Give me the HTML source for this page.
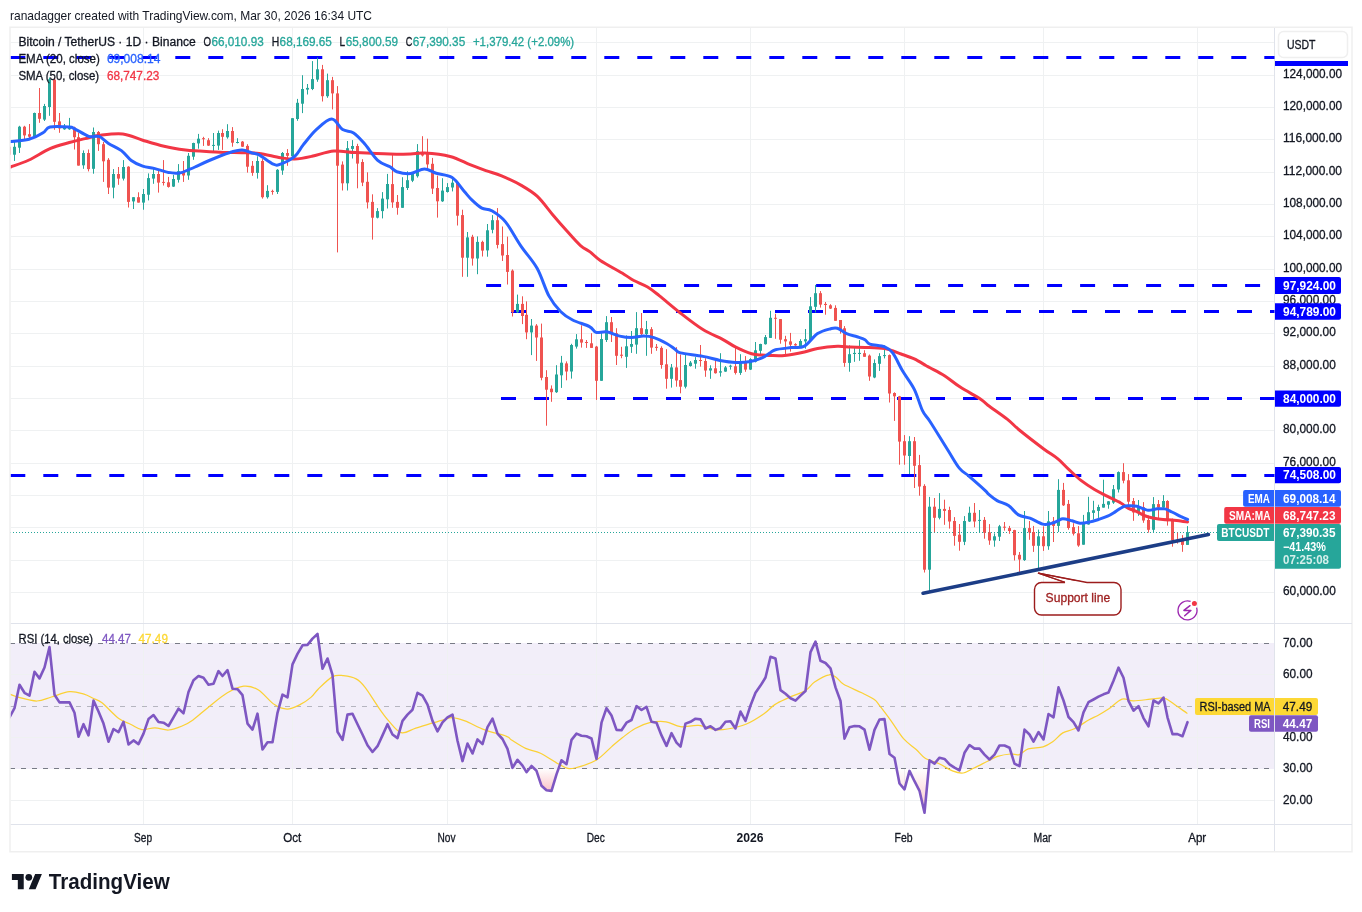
<!DOCTYPE html><html><head><meta charset="utf-8"><style>
html,body{margin:0;padding:0;background:#fff;width:1362px;height:912px;overflow:hidden}
svg{display:block;will-change:transform}
text{font-family:"Liberation Sans", sans-serif}
</style></head><body>
<svg width="1362" height="912" viewBox="0 0 1362 912">
<rect x="0" y="0" width="1362" height="912" fill="#ffffff"/>

<text x="10" y="19.5" font-size="13" fill="#131722" textLength="362" lengthAdjust="spacingAndGlyphs">ranadagger created with TradingView.com, Mar 30, 2026 16:34 UTC</text>
<rect x="10" y="27.25" width="1342" height="824.5" fill="none" stroke="#efefef" stroke-width="1.5"/>
<defs><clipPath id="cp"><rect x="10.75" y="28" width="1263.75" height="595"/></clipPath>
<clipPath id="cr"><rect x="10.75" y="624" width="1263.75" height="200"/></clipPath>
<linearGradient id="osg" x1="0" y1="0" x2="0" y2="1"><stop offset="0" stop-color="#f23645" stop-opacity="0"/><stop offset="1" stop-color="#f23645" stop-opacity="0.3"/></linearGradient>
<linearGradient id="obg" x1="0" y1="1" x2="0" y2="0"><stop offset="0" stop-color="#089981" stop-opacity="0"/><stop offset="1" stop-color="#089981" stop-opacity="0.22"/></linearGradient>
</defs>
<g clip-path="url(#cp)">
<line x1="10" y1="592.5" x2="1275" y2="592.5" stroke="#eff1f2" stroke-width="1"/>
<line x1="10" y1="560.5" x2="1275" y2="560.5" stroke="#eff1f2" stroke-width="1"/>
<line x1="10" y1="527.5" x2="1275" y2="527.5" stroke="#eff1f2" stroke-width="1"/>
<line x1="10" y1="495.5" x2="1275" y2="495.5" stroke="#eff1f2" stroke-width="1"/>
<line x1="10" y1="463.5" x2="1275" y2="463.5" stroke="#eff1f2" stroke-width="1"/>
<line x1="10" y1="430.5" x2="1275" y2="430.5" stroke="#eff1f2" stroke-width="1"/>
<line x1="10" y1="398.5" x2="1275" y2="398.5" stroke="#eff1f2" stroke-width="1"/>
<line x1="10" y1="366.5" x2="1275" y2="366.5" stroke="#eff1f2" stroke-width="1"/>
<line x1="10" y1="333.5" x2="1275" y2="333.5" stroke="#eff1f2" stroke-width="1"/>
<line x1="10" y1="301.5" x2="1275" y2="301.5" stroke="#eff1f2" stroke-width="1"/>
<line x1="10" y1="269.5" x2="1275" y2="269.5" stroke="#eff1f2" stroke-width="1"/>
<line x1="10" y1="236.5" x2="1275" y2="236.5" stroke="#eff1f2" stroke-width="1"/>
<line x1="10" y1="204.5" x2="1275" y2="204.5" stroke="#eff1f2" stroke-width="1"/>
<line x1="10" y1="172.5" x2="1275" y2="172.5" stroke="#eff1f2" stroke-width="1"/>
<line x1="10" y1="139.5" x2="1275" y2="139.5" stroke="#eff1f2" stroke-width="1"/>
<line x1="10" y1="107.5" x2="1275" y2="107.5" stroke="#eff1f2" stroke-width="1"/>
<line x1="10" y1="75.5" x2="1275" y2="75.5" stroke="#eff1f2" stroke-width="1"/>
<line x1="10" y1="42.5" x2="1275" y2="42.5" stroke="#eff1f2" stroke-width="1"/>
<line x1="143.5" y1="28" x2="143.5" y2="624" stroke="#eff1f2" stroke-width="1"/>
<line x1="292.5" y1="28" x2="292.5" y2="624" stroke="#eff1f2" stroke-width="1"/>
<line x1="447.5" y1="28" x2="447.5" y2="624" stroke="#eff1f2" stroke-width="1"/>
<line x1="596.5" y1="28" x2="596.5" y2="624" stroke="#eff1f2" stroke-width="1"/>
<line x1="750.5" y1="28" x2="750.5" y2="624" stroke="#eff1f2" stroke-width="1"/>
<line x1="904.5" y1="28" x2="904.5" y2="624" stroke="#eff1f2" stroke-width="1"/>
<line x1="1043.5" y1="28" x2="1043.5" y2="624" stroke="#eff1f2" stroke-width="1"/>
<line x1="1197.5" y1="28" x2="1197.5" y2="624" stroke="#eff1f2" stroke-width="1"/>
</g>
<g clip-path="url(#cr)">
<rect x="10" y="643" width="1265" height="126" fill="#7e57c2" fill-opacity="0.1"/>
<line x1="10" y1="674.5" x2="1275" y2="674.5" stroke="#eff1f2" stroke-width="1"/>
<line x1="10" y1="737.5" x2="1275" y2="737.5" stroke="#eff1f2" stroke-width="1"/>
<line x1="10" y1="800.5" x2="1275" y2="800.5" stroke="#eff1f2" stroke-width="1"/>
<line x1="143.5" y1="624" x2="143.5" y2="824" stroke="#eff1f2" stroke-width="1"/>
<line x1="292.5" y1="624" x2="292.5" y2="824" stroke="#eff1f2" stroke-width="1"/>
<line x1="447.5" y1="624" x2="447.5" y2="824" stroke="#eff1f2" stroke-width="1"/>
<line x1="596.5" y1="624" x2="596.5" y2="824" stroke="#eff1f2" stroke-width="1"/>
<line x1="750.5" y1="624" x2="750.5" y2="824" stroke="#eff1f2" stroke-width="1"/>
<line x1="904.5" y1="624" x2="904.5" y2="824" stroke="#eff1f2" stroke-width="1"/>
<line x1="1043.5" y1="624" x2="1043.5" y2="824" stroke="#eff1f2" stroke-width="1"/>
<line x1="1197.5" y1="624" x2="1197.5" y2="824" stroke="#eff1f2" stroke-width="1"/>
<line x1="10" y1="643.5" x2="1275" y2="643.5" stroke="#787b86" stroke-width="1" stroke-dasharray="5 6" stroke-opacity="1"/>
<line x1="10" y1="706.5" x2="1275" y2="706.5" stroke="#787b86" stroke-width="1" stroke-dasharray="5 6" stroke-opacity="0.5"/>
<line x1="10" y1="768.5" x2="1275" y2="768.5" stroke="#787b86" stroke-width="1" stroke-dasharray="5 6" stroke-opacity="1"/>
</g>
<line x1="10.75" y1="623.5" x2="1352" y2="623.5" stroke="#e0e3eb" stroke-width="1"/>
<line x1="10.75" y1="824.5" x2="1352" y2="824.5" stroke="#e0e3eb" stroke-width="1"/>
<line x1="1274.5" y1="28" x2="1274.5" y2="851" stroke="#e0e3eb" stroke-width="1"/>
<g clip-path="url(#cp)">
<line x1="10.3" y1="57.5" x2="1275" y2="57.5" stroke="#0000ff" stroke-width="3" stroke-dasharray="15 18"/>
<line x1="486.1" y1="285.5" x2="1275" y2="285.5" stroke="#0000ff" stroke-width="3" stroke-dasharray="15 18"/>
<line x1="511" y1="311.5" x2="1275" y2="311.5" stroke="#0000ff" stroke-width="3" stroke-dasharray="15 18"/>
<line x1="501" y1="398.5" x2="1275" y2="398.5" stroke="#0000ff" stroke-width="3" stroke-dasharray="15 18"/>
<line x1="10.3" y1="475.5" x2="1275" y2="475.5" stroke="#0000ff" stroke-width="3" stroke-dasharray="15 18"/>
<line x1="10" y1="532.5" x2="1275" y2="532.5" stroke="#26a69a" stroke-width="1" stroke-dasharray="1 2"/>
<rect x="9" y="146.0" width="1" height="10.0" fill="#ef5350"/>
<rect x="8" y="146.8" width="3" height="7.9" fill="#ef5350"/>
<rect x="14" y="141.6" width="1" height="19.3" fill="#26a69a"/>
<rect x="13" y="146.8" width="3" height="7.9" fill="#26a69a"/>
<rect x="19" y="125.8" width="1" height="27.2" fill="#26a69a"/>
<rect x="18" y="126.7" width="3" height="21.0" fill="#26a69a"/>
<rect x="24" y="125.8" width="1" height="14.0" fill="#ef5350"/>
<rect x="23" y="126.7" width="3" height="8.7" fill="#ef5350"/>
<rect x="29" y="124.0" width="1" height="14.0" fill="#ef5350"/>
<rect x="28" y="134.2" width="3" height="2.5" fill="#ef5350"/>
<rect x="34" y="112.6" width="1" height="24.6" fill="#26a69a"/>
<rect x="33" y="113.0" width="3" height="23.7" fill="#26a69a"/>
<rect x="39" y="88.0" width="1" height="34.8" fill="#ef5350"/>
<rect x="38" y="113.0" width="3" height="5.8" fill="#ef5350"/>
<rect x="44" y="103.9" width="1" height="17.1" fill="#26a69a"/>
<rect x="43" y="106.0" width="3" height="13.6" fill="#26a69a"/>
<rect x="49" y="77.5" width="1" height="38.3" fill="#26a69a"/>
<rect x="48" y="79.3" width="3" height="27.7" fill="#26a69a"/>
<rect x="54" y="77.5" width="1" height="52.3" fill="#ef5350"/>
<rect x="53" y="79.6" width="3" height="42.2" fill="#ef5350"/>
<rect x="59" y="113.0" width="1" height="19.8" fill="#ef5350"/>
<rect x="58" y="121.4" width="3" height="7.0" fill="#ef5350"/>
<rect x="64" y="124.0" width="1" height="5.8" fill="#26a69a"/>
<rect x="63" y="125.8" width="3" height="3.5" fill="#26a69a"/>
<rect x="69" y="117.9" width="1" height="11.9" fill="#26a69a"/>
<rect x="68" y="126.7" width="3" height="2.6" fill="#26a69a"/>
<rect x="74" y="126.7" width="1" height="22.8" fill="#ef5350"/>
<rect x="73" y="127.5" width="3" height="9.7" fill="#ef5350"/>
<rect x="78" y="132.8" width="1" height="32.8" fill="#ef5350"/>
<rect x="77" y="137.2" width="3" height="28.4" fill="#ef5350"/>
<rect x="83" y="150.4" width="1" height="18.4" fill="#26a69a"/>
<rect x="82" y="153.0" width="3" height="12.3" fill="#26a69a"/>
<rect x="88" y="149.5" width="1" height="21.9" fill="#ef5350"/>
<rect x="87" y="153.0" width="3" height="16.1" fill="#ef5350"/>
<rect x="93" y="127.5" width="1" height="46.2" fill="#26a69a"/>
<rect x="92" y="132.0" width="3" height="36.8" fill="#26a69a"/>
<rect x="98" y="131.0" width="1" height="19.9" fill="#ef5350"/>
<rect x="97" y="132.0" width="3" height="12.2" fill="#ef5350"/>
<rect x="103" y="142.0" width="1" height="39.9" fill="#ef5350"/>
<rect x="102" y="144.2" width="3" height="17.1" fill="#ef5350"/>
<rect x="108" y="158.1" width="1" height="35.9" fill="#ef5350"/>
<rect x="107" y="159.8" width="3" height="27.8" fill="#ef5350"/>
<rect x="113" y="169.1" width="1" height="29.2" fill="#26a69a"/>
<rect x="112" y="174.0" width="3" height="13.6" fill="#26a69a"/>
<rect x="118" y="167.0" width="1" height="17.8" fill="#ef5350"/>
<rect x="117" y="174.0" width="3" height="4.6" fill="#ef5350"/>
<rect x="123" y="160.1" width="1" height="20.4" fill="#26a69a"/>
<rect x="122" y="167.0" width="3" height="11.6" fill="#26a69a"/>
<rect x="128" y="166.2" width="1" height="41.3" fill="#ef5350"/>
<rect x="127" y="166.7" width="3" height="35.2" fill="#ef5350"/>
<rect x="133" y="197.2" width="1" height="11.8" fill="#26a69a"/>
<rect x="132" y="197.2" width="3" height="4.2" fill="#26a69a"/>
<rect x="138" y="192.3" width="1" height="10.3" fill="#ef5350"/>
<rect x="137" y="197.2" width="3" height="5.4" fill="#ef5350"/>
<rect x="143" y="189.0" width="1" height="20.7" fill="#26a69a"/>
<rect x="142" y="194.0" width="3" height="8.6" fill="#26a69a"/>
<rect x="148" y="173.4" width="1" height="27.0" fill="#26a69a"/>
<rect x="147" y="178.1" width="3" height="16.6" fill="#26a69a"/>
<rect x="153" y="167.2" width="1" height="16.6" fill="#26a69a"/>
<rect x="152" y="174.0" width="3" height="4.6" fill="#26a69a"/>
<rect x="158" y="169.8" width="1" height="22.8" fill="#ef5350"/>
<rect x="157" y="174.0" width="3" height="8.6" fill="#ef5350"/>
<rect x="163" y="160.1" width="1" height="25.4" fill="#ef5350"/>
<rect x="162" y="181.9" width="3" height="1.0" fill="#ef5350"/>
<rect x="168" y="176.9" width="1" height="10.7" fill="#ef5350"/>
<rect x="167" y="182.3" width="3" height="4.6" fill="#ef5350"/>
<rect x="173" y="174.8" width="1" height="12.1" fill="#26a69a"/>
<rect x="172" y="179.0" width="3" height="7.6" fill="#26a69a"/>
<rect x="178" y="164.1" width="1" height="18.5" fill="#26a69a"/>
<rect x="177" y="171.2" width="3" height="8.6" fill="#26a69a"/>
<rect x="183" y="161.0" width="1" height="20.9" fill="#ef5350"/>
<rect x="182" y="171.2" width="3" height="4.3" fill="#ef5350"/>
<rect x="188" y="153.0" width="1" height="26.8" fill="#26a69a"/>
<rect x="187" y="155.8" width="3" height="19.7" fill="#26a69a"/>
<rect x="193" y="142.7" width="1" height="17.1" fill="#26a69a"/>
<rect x="192" y="143.0" width="3" height="13.7" fill="#26a69a"/>
<rect x="198" y="133.9" width="1" height="14.8" fill="#26a69a"/>
<rect x="197" y="138.7" width="3" height="4.7" fill="#26a69a"/>
<rect x="203" y="136.8" width="1" height="9.1" fill="#ef5350"/>
<rect x="202" y="138.2" width="3" height="1.0" fill="#ef5350"/>
<rect x="208" y="138.2" width="1" height="7.7" fill="#ef5350"/>
<rect x="207" y="140.2" width="3" height="5.4" fill="#ef5350"/>
<rect x="213" y="133.0" width="1" height="18.6" fill="#26a69a"/>
<rect x="212" y="144.9" width="3" height="1.0" fill="#26a69a"/>
<rect x="218" y="130.6" width="1" height="19.3" fill="#26a69a"/>
<rect x="217" y="133.0" width="3" height="12.6" fill="#26a69a"/>
<rect x="222" y="129.2" width="1" height="20.7" fill="#ef5350"/>
<rect x="221" y="133.0" width="3" height="3.8" fill="#ef5350"/>
<rect x="227" y="124.2" width="1" height="14.5" fill="#26a69a"/>
<rect x="226" y="131.0" width="3" height="6.3" fill="#26a69a"/>
<rect x="232" y="127.1" width="1" height="19.6" fill="#ef5350"/>
<rect x="231" y="131.0" width="3" height="11.7" fill="#ef5350"/>
<rect x="237" y="138.2" width="1" height="5.2" fill="#26a69a"/>
<rect x="236" y="142.0" width="3" height="1.0" fill="#26a69a"/>
<rect x="242" y="141.0" width="1" height="6.0" fill="#ef5350"/>
<rect x="241" y="141.6" width="3" height="5.1" fill="#ef5350"/>
<rect x="247" y="144.2" width="1" height="28.4" fill="#ef5350"/>
<rect x="246" y="145.9" width="3" height="20.8" fill="#ef5350"/>
<rect x="252" y="161.0" width="1" height="14.8" fill="#ef5350"/>
<rect x="251" y="165.8" width="3" height="7.1" fill="#ef5350"/>
<rect x="257" y="156.3" width="1" height="22.3" fill="#26a69a"/>
<rect x="256" y="161.0" width="3" height="11.9" fill="#26a69a"/>
<rect x="262" y="159.1" width="1" height="39.5" fill="#ef5350"/>
<rect x="261" y="161.0" width="3" height="36.2" fill="#ef5350"/>
<rect x="267" y="185.2" width="1" height="13.4" fill="#26a69a"/>
<rect x="266" y="190.9" width="3" height="6.3" fill="#26a69a"/>
<rect x="272" y="189.7" width="1" height="5.0" fill="#ef5350"/>
<rect x="271" y="190.9" width="3" height="1.0" fill="#ef5350"/>
<rect x="277" y="169.1" width="1" height="24.9" fill="#26a69a"/>
<rect x="276" y="169.8" width="3" height="22.1" fill="#26a69a"/>
<rect x="282" y="152.0" width="1" height="22.8" fill="#26a69a"/>
<rect x="281" y="153.0" width="3" height="17.5" fill="#26a69a"/>
<rect x="287" y="149.1" width="1" height="16.7" fill="#ef5350"/>
<rect x="286" y="153.0" width="3" height="2.8" fill="#ef5350"/>
<rect x="292" y="118.2" width="1" height="39.8" fill="#26a69a"/>
<rect x="291" y="118.2" width="3" height="38.1" fill="#26a69a"/>
<rect x="297" y="98.9" width="1" height="21.9" fill="#26a69a"/>
<rect x="296" y="102.8" width="3" height="16.2" fill="#26a69a"/>
<rect x="302" y="75.2" width="1" height="37.9" fill="#26a69a"/>
<rect x="301" y="89.0" width="3" height="14.7" fill="#26a69a"/>
<rect x="307" y="84.0" width="1" height="10.5" fill="#26a69a"/>
<rect x="306" y="87.9" width="3" height="1.7" fill="#26a69a"/>
<rect x="312" y="61.1" width="1" height="29.0" fill="#26a69a"/>
<rect x="311" y="79.1" width="3" height="9.9" fill="#26a69a"/>
<rect x="317" y="57.6" width="1" height="24.2" fill="#26a69a"/>
<rect x="316" y="69.3" width="3" height="10.3" fill="#26a69a"/>
<rect x="322" y="64.9" width="1" height="36.6" fill="#ef5350"/>
<rect x="321" y="69.3" width="3" height="26.9" fill="#ef5350"/>
<rect x="327" y="73.6" width="1" height="24.2" fill="#26a69a"/>
<rect x="326" y="80.2" width="3" height="16.0" fill="#26a69a"/>
<rect x="332" y="76.9" width="1" height="32.5" fill="#ef5350"/>
<rect x="331" y="80.2" width="3" height="13.2" fill="#ef5350"/>
<rect x="337" y="86.1" width="1" height="166.3" fill="#ef5350"/>
<rect x="336" y="93.4" width="3" height="72.3" fill="#ef5350"/>
<rect x="342" y="161.4" width="1" height="29.1" fill="#ef5350"/>
<rect x="341" y="164.6" width="3" height="18.7" fill="#ef5350"/>
<rect x="347" y="141.0" width="1" height="49.5" fill="#26a69a"/>
<rect x="346" y="148.2" width="3" height="35.1" fill="#26a69a"/>
<rect x="352" y="140.1" width="1" height="18.4" fill="#26a69a"/>
<rect x="351" y="146.0" width="3" height="2.9" fill="#26a69a"/>
<rect x="357" y="143.8" width="1" height="44.5" fill="#ef5350"/>
<rect x="356" y="146.0" width="3" height="17.6" fill="#ef5350"/>
<rect x="362" y="159.2" width="1" height="26.9" fill="#ef5350"/>
<rect x="361" y="162.0" width="3" height="20.6" fill="#ef5350"/>
<rect x="367" y="172.3" width="1" height="36.2" fill="#ef5350"/>
<rect x="366" y="181.8" width="3" height="20.6" fill="#ef5350"/>
<rect x="372" y="194.3" width="1" height="45.3" fill="#ef5350"/>
<rect x="371" y="201.9" width="3" height="15.8" fill="#ef5350"/>
<rect x="377" y="208.1" width="1" height="10.3" fill="#26a69a"/>
<rect x="376" y="211.1" width="3" height="6.6" fill="#26a69a"/>
<rect x="382" y="192.1" width="1" height="26.3" fill="#26a69a"/>
<rect x="381" y="198.6" width="3" height="12.5" fill="#26a69a"/>
<rect x="387" y="173.9" width="1" height="34.6" fill="#26a69a"/>
<rect x="386" y="184.0" width="3" height="15.3" fill="#26a69a"/>
<rect x="392" y="154.5" width="1" height="53.3" fill="#ef5350"/>
<rect x="391" y="184.1" width="3" height="18.3" fill="#ef5350"/>
<rect x="397" y="195.0" width="1" height="19.7" fill="#ef5350"/>
<rect x="396" y="201.9" width="3" height="5.9" fill="#ef5350"/>
<rect x="402" y="177.2" width="1" height="30.6" fill="#26a69a"/>
<rect x="401" y="187.1" width="3" height="20.7" fill="#26a69a"/>
<rect x="407" y="171.3" width="1" height="18.7" fill="#26a69a"/>
<rect x="406" y="180.2" width="3" height="7.8" fill="#26a69a"/>
<rect x="412" y="172.3" width="1" height="9.8" fill="#26a69a"/>
<rect x="411" y="173.3" width="3" height="7.4" fill="#26a69a"/>
<rect x="417" y="144.1" width="1" height="33.5" fill="#26a69a"/>
<rect x="416" y="151.2" width="3" height="25.0" fill="#26a69a"/>
<rect x="422" y="136.2" width="1" height="20.3" fill="#ef5350"/>
<rect x="421" y="152.0" width="3" height="3.5" fill="#ef5350"/>
<rect x="427" y="138.7" width="1" height="30.6" fill="#ef5350"/>
<rect x="426" y="153.9" width="3" height="10.5" fill="#ef5350"/>
<rect x="432" y="157.9" width="1" height="36.1" fill="#ef5350"/>
<rect x="431" y="163.8" width="3" height="24.8" fill="#ef5350"/>
<rect x="437" y="175.6" width="1" height="42.0" fill="#ef5350"/>
<rect x="436" y="188.0" width="3" height="13.3" fill="#ef5350"/>
<rect x="442" y="178.2" width="1" height="23.7" fill="#26a69a"/>
<rect x="441" y="190.6" width="3" height="10.7" fill="#26a69a"/>
<rect x="447" y="183.1" width="1" height="9.5" fill="#26a69a"/>
<rect x="446" y="187.1" width="3" height="4.9" fill="#26a69a"/>
<rect x="452" y="177.6" width="1" height="13.8" fill="#26a69a"/>
<rect x="451" y="182.7" width="3" height="4.8" fill="#26a69a"/>
<rect x="457" y="181.1" width="1" height="44.4" fill="#ef5350"/>
<rect x="456" y="182.1" width="3" height="33.6" fill="#ef5350"/>
<rect x="462" y="209.7" width="1" height="67.1" fill="#ef5350"/>
<rect x="461" y="215.1" width="3" height="42.6" fill="#ef5350"/>
<rect x="467" y="232.0" width="1" height="44.8" fill="#26a69a"/>
<rect x="466" y="237.4" width="3" height="20.3" fill="#26a69a"/>
<rect x="472" y="234.8" width="1" height="30.8" fill="#ef5350"/>
<rect x="471" y="236.8" width="3" height="21.7" fill="#ef5350"/>
<rect x="477" y="236.4" width="1" height="37.8" fill="#26a69a"/>
<rect x="476" y="241.9" width="3" height="16.6" fill="#26a69a"/>
<rect x="482" y="240.7" width="1" height="15.8" fill="#ef5350"/>
<rect x="481" y="241.9" width="3" height="8.7" fill="#ef5350"/>
<rect x="487" y="224.0" width="1" height="32.7" fill="#26a69a"/>
<rect x="486" y="230.3" width="3" height="20.1" fill="#26a69a"/>
<rect x="492" y="215.1" width="1" height="18.2" fill="#26a69a"/>
<rect x="491" y="220.2" width="3" height="9.6" fill="#26a69a"/>
<rect x="497" y="208.1" width="1" height="40.3" fill="#ef5350"/>
<rect x="496" y="220.2" width="3" height="24.7" fill="#ef5350"/>
<rect x="502" y="226.5" width="1" height="34.5" fill="#ef5350"/>
<rect x="501" y="244.1" width="3" height="11.4" fill="#ef5350"/>
<rect x="507" y="236.6" width="1" height="47.9" fill="#ef5350"/>
<rect x="506" y="255.0" width="3" height="16.9" fill="#ef5350"/>
<rect x="512" y="269.4" width="1" height="47.1" fill="#ef5350"/>
<rect x="511" y="270.6" width="3" height="41.6" fill="#ef5350"/>
<rect x="517" y="294.6" width="1" height="18.4" fill="#26a69a"/>
<rect x="516" y="303.9" width="3" height="8.3" fill="#26a69a"/>
<rect x="522" y="296.3" width="1" height="27.8" fill="#ef5350"/>
<rect x="521" y="303.9" width="3" height="12.1" fill="#ef5350"/>
<rect x="526" y="301.4" width="1" height="37.8" fill="#ef5350"/>
<rect x="525" y="314.8" width="3" height="17.6" fill="#ef5350"/>
<rect x="531" y="319.0" width="1" height="36.1" fill="#26a69a"/>
<rect x="530" y="325.6" width="3" height="6.8" fill="#26a69a"/>
<rect x="536" y="324.1" width="1" height="36.8" fill="#ef5350"/>
<rect x="535" y="325.6" width="3" height="11.9" fill="#ef5350"/>
<rect x="541" y="323.6" width="1" height="56.7" fill="#ef5350"/>
<rect x="540" y="337.5" width="3" height="40.3" fill="#ef5350"/>
<rect x="546" y="370.2" width="1" height="55.5" fill="#ef5350"/>
<rect x="545" y="377.0" width="3" height="12.7" fill="#ef5350"/>
<rect x="551" y="385.4" width="1" height="16.4" fill="#ef5350"/>
<rect x="550" y="388.7" width="3" height="3.5" fill="#ef5350"/>
<rect x="556" y="365.2" width="1" height="27.7" fill="#26a69a"/>
<rect x="555" y="374.5" width="3" height="17.7" fill="#26a69a"/>
<rect x="561" y="355.9" width="1" height="32.0" fill="#26a69a"/>
<rect x="560" y="362.7" width="3" height="12.6" fill="#26a69a"/>
<rect x="566" y="361.4" width="1" height="18.9" fill="#ef5350"/>
<rect x="565" y="363.4" width="3" height="8.1" fill="#ef5350"/>
<rect x="571" y="343.8" width="1" height="34.8" fill="#26a69a"/>
<rect x="570" y="345.0" width="3" height="26.5" fill="#26a69a"/>
<rect x="576" y="334.1" width="1" height="14.5" fill="#26a69a"/>
<rect x="575" y="339.3" width="3" height="7.3" fill="#26a69a"/>
<rect x="581" y="325.3" width="1" height="22.3" fill="#ef5350"/>
<rect x="580" y="339.3" width="3" height="3.3" fill="#ef5350"/>
<rect x="586" y="340.0" width="1" height="7.9" fill="#ef5350"/>
<rect x="585" y="342.0" width="3" height="1.0" fill="#ef5350"/>
<rect x="591" y="333.2" width="1" height="14.7" fill="#ef5350"/>
<rect x="590" y="343.3" width="3" height="4.6" fill="#ef5350"/>
<rect x="596" y="345.9" width="1" height="54.0" fill="#ef5350"/>
<rect x="595" y="346.6" width="3" height="34.2" fill="#ef5350"/>
<rect x="601" y="331.4" width="1" height="49.4" fill="#26a69a"/>
<rect x="600" y="339.0" width="3" height="41.8" fill="#26a69a"/>
<rect x="606" y="316.1" width="1" height="25.9" fill="#26a69a"/>
<rect x="605" y="322.2" width="3" height="17.8" fill="#26a69a"/>
<rect x="611" y="317.0" width="1" height="25.0" fill="#ef5350"/>
<rect x="610" y="322.2" width="3" height="11.2" fill="#ef5350"/>
<rect x="616" y="328.2" width="1" height="36.8" fill="#ef5350"/>
<rect x="615" y="333.2" width="3" height="22.6" fill="#ef5350"/>
<rect x="621" y="346.8" width="1" height="11.4" fill="#ef5350"/>
<rect x="620" y="354.7" width="3" height="1.1" fill="#ef5350"/>
<rect x="626" y="335.4" width="1" height="32.5" fill="#26a69a"/>
<rect x="625" y="346.3" width="3" height="10.5" fill="#26a69a"/>
<rect x="631" y="331.0" width="1" height="21.9" fill="#26a69a"/>
<rect x="630" y="344.0" width="3" height="2.8" fill="#26a69a"/>
<rect x="636" y="312.1" width="1" height="41.7" fill="#26a69a"/>
<rect x="635" y="328.2" width="3" height="16.4" fill="#26a69a"/>
<rect x="641" y="313.0" width="1" height="23.7" fill="#ef5350"/>
<rect x="640" y="328.2" width="3" height="5.9" fill="#ef5350"/>
<rect x="646" y="320.9" width="1" height="34.9" fill="#26a69a"/>
<rect x="645" y="329.2" width="3" height="4.9" fill="#26a69a"/>
<rect x="651" y="327.1" width="1" height="26.7" fill="#ef5350"/>
<rect x="650" y="329.2" width="3" height="18.4" fill="#ef5350"/>
<rect x="656" y="344.0" width="1" height="6.8" fill="#ef5350"/>
<rect x="655" y="346.8" width="3" height="1.1" fill="#ef5350"/>
<rect x="661" y="346.3" width="1" height="22.4" fill="#ef5350"/>
<rect x="660" y="347.9" width="3" height="17.1" fill="#ef5350"/>
<rect x="666" y="349.2" width="1" height="39.5" fill="#ef5350"/>
<rect x="665" y="364.3" width="3" height="14.5" fill="#ef5350"/>
<rect x="671" y="364.0" width="1" height="23.6" fill="#26a69a"/>
<rect x="670" y="367.4" width="3" height="11.4" fill="#26a69a"/>
<rect x="676" y="347.2" width="1" height="39.5" fill="#ef5350"/>
<rect x="675" y="367.4" width="3" height="13.1" fill="#ef5350"/>
<rect x="680" y="354.5" width="1" height="38.8" fill="#ef5350"/>
<rect x="679" y="380.1" width="3" height="6.6" fill="#ef5350"/>
<rect x="685" y="354.2" width="1" height="34.2" fill="#26a69a"/>
<rect x="684" y="365.0" width="3" height="21.7" fill="#26a69a"/>
<rect x="690" y="361.0" width="1" height="5.6" fill="#26a69a"/>
<rect x="689" y="362.6" width="3" height="3.4" fill="#26a69a"/>
<rect x="695" y="357.1" width="1" height="11.6" fill="#26a69a"/>
<rect x="694" y="360.0" width="3" height="3.7" fill="#26a69a"/>
<rect x="700" y="345.0" width="1" height="21.6" fill="#ef5350"/>
<rect x="699" y="360.0" width="3" height="1.0" fill="#ef5350"/>
<rect x="705" y="358.2" width="1" height="18.6" fill="#ef5350"/>
<rect x="704" y="361.0" width="3" height="9.5" fill="#ef5350"/>
<rect x="710" y="365.3" width="1" height="13.5" fill="#26a69a"/>
<rect x="709" y="368.3" width="3" height="2.2" fill="#26a69a"/>
<rect x="715" y="361.0" width="1" height="12.6" fill="#ef5350"/>
<rect x="714" y="368.3" width="3" height="4.9" fill="#ef5350"/>
<rect x="720" y="353.2" width="1" height="23.4" fill="#26a69a"/>
<rect x="719" y="371.3" width="3" height="1.3" fill="#26a69a"/>
<rect x="725" y="366.0" width="1" height="5.8" fill="#26a69a"/>
<rect x="724" y="367.4" width="3" height="4.2" fill="#26a69a"/>
<rect x="730" y="364.7" width="1" height="4.9" fill="#26a69a"/>
<rect x="729" y="365.7" width="3" height="1.0" fill="#26a69a"/>
<rect x="735" y="346.8" width="1" height="27.7" fill="#ef5350"/>
<rect x="734" y="366.3" width="3" height="6.6" fill="#ef5350"/>
<rect x="740" y="354.2" width="1" height="20.7" fill="#26a69a"/>
<rect x="739" y="362.1" width="3" height="10.8" fill="#26a69a"/>
<rect x="745" y="356.1" width="1" height="15.7" fill="#ef5350"/>
<rect x="744" y="362.1" width="3" height="7.5" fill="#ef5350"/>
<rect x="750" y="358.2" width="1" height="11.8" fill="#26a69a"/>
<rect x="749" y="359.1" width="3" height="10.5" fill="#26a69a"/>
<rect x="755" y="342.0" width="1" height="20.4" fill="#26a69a"/>
<rect x="754" y="350.3" width="3" height="11.4" fill="#26a69a"/>
<rect x="760" y="343.7" width="1" height="11.0" fill="#26a69a"/>
<rect x="759" y="344.0" width="3" height="6.8" fill="#26a69a"/>
<rect x="765" y="335.0" width="1" height="9.6" fill="#26a69a"/>
<rect x="764" y="337.1" width="3" height="7.1" fill="#26a69a"/>
<rect x="770" y="310.8" width="1" height="27.1" fill="#26a69a"/>
<rect x="769" y="317.8" width="3" height="20.1" fill="#26a69a"/>
<rect x="775" y="313.8" width="1" height="25.0" fill="#ef5350"/>
<rect x="774" y="317.8" width="3" height="1.0" fill="#ef5350"/>
<rect x="780" y="319.1" width="1" height="24.6" fill="#ef5350"/>
<rect x="779" y="319.1" width="3" height="20.6" fill="#ef5350"/>
<rect x="785" y="335.8" width="1" height="18.8" fill="#ef5350"/>
<rect x="784" y="339.2" width="3" height="2.2" fill="#ef5350"/>
<rect x="790" y="332.9" width="1" height="18.7" fill="#ef5350"/>
<rect x="789" y="341.4" width="3" height="3.3" fill="#ef5350"/>
<rect x="795" y="343.2" width="1" height="2.6" fill="#ef5350"/>
<rect x="794" y="344.1" width="3" height="1.3" fill="#ef5350"/>
<rect x="800" y="339.2" width="1" height="8.8" fill="#26a69a"/>
<rect x="799" y="341.0" width="3" height="5.7" fill="#26a69a"/>
<rect x="805" y="329.0" width="1" height="19.7" fill="#26a69a"/>
<rect x="804" y="339.2" width="3" height="2.2" fill="#26a69a"/>
<rect x="810" y="297.1" width="1" height="43.0" fill="#26a69a"/>
<rect x="809" y="306.3" width="3" height="33.8" fill="#26a69a"/>
<rect x="815" y="284.9" width="1" height="27.6" fill="#26a69a"/>
<rect x="814" y="293.2" width="3" height="13.6" fill="#26a69a"/>
<rect x="820" y="291.1" width="1" height="16.5" fill="#ef5350"/>
<rect x="819" y="293.2" width="3" height="11.4" fill="#ef5350"/>
<rect x="825" y="302.0" width="1" height="12.7" fill="#ef5350"/>
<rect x="824" y="303.9" width="3" height="1.1" fill="#ef5350"/>
<rect x="830" y="304.2" width="1" height="4.8" fill="#ef5350"/>
<rect x="829" y="305.3" width="3" height="3.3" fill="#ef5350"/>
<rect x="835" y="305.3" width="1" height="15.5" fill="#ef5350"/>
<rect x="834" y="307.9" width="3" height="12.9" fill="#ef5350"/>
<rect x="840" y="320.0" width="1" height="13.6" fill="#ef5350"/>
<rect x="839" y="320.0" width="3" height="9.2" fill="#ef5350"/>
<rect x="844" y="326.1" width="1" height="40.7" fill="#ef5350"/>
<rect x="843" y="328.3" width="3" height="34.6" fill="#ef5350"/>
<rect x="849" y="345.4" width="1" height="26.3" fill="#26a69a"/>
<rect x="848" y="354.2" width="3" height="8.7" fill="#26a69a"/>
<rect x="854" y="346.7" width="1" height="15.1" fill="#26a69a"/>
<rect x="853" y="352.9" width="3" height="1.1" fill="#26a69a"/>
<rect x="859" y="340.1" width="1" height="20.7" fill="#26a69a"/>
<rect x="858" y="352.9" width="3" height="1.1" fill="#26a69a"/>
<rect x="864" y="350.2" width="1" height="6.6" fill="#ef5350"/>
<rect x="863" y="353.2" width="3" height="3.6" fill="#ef5350"/>
<rect x="869" y="354.5" width="1" height="26.3" fill="#ef5350"/>
<rect x="868" y="355.6" width="3" height="20.9" fill="#ef5350"/>
<rect x="874" y="359.4" width="1" height="18.8" fill="#26a69a"/>
<rect x="873" y="363.0" width="3" height="14.5" fill="#26a69a"/>
<rect x="879" y="353.2" width="1" height="17.7" fill="#26a69a"/>
<rect x="878" y="356.1" width="3" height="7.7" fill="#26a69a"/>
<rect x="884" y="345.3" width="1" height="13.1" fill="#26a69a"/>
<rect x="883" y="355.1" width="3" height="1.0" fill="#26a69a"/>
<rect x="889" y="354.5" width="1" height="48.0" fill="#ef5350"/>
<rect x="888" y="355.1" width="3" height="38.4" fill="#ef5350"/>
<rect x="894" y="392.3" width="1" height="28.6" fill="#ef5350"/>
<rect x="893" y="393.0" width="3" height="3.3" fill="#ef5350"/>
<rect x="899" y="395.9" width="1" height="68.8" fill="#ef5350"/>
<rect x="898" y="396.3" width="3" height="45.3" fill="#ef5350"/>
<rect x="904" y="435.1" width="1" height="29.6" fill="#ef5350"/>
<rect x="903" y="441.2" width="3" height="14.3" fill="#ef5350"/>
<rect x="909" y="436.2" width="1" height="37.8" fill="#26a69a"/>
<rect x="908" y="441.2" width="3" height="14.8" fill="#26a69a"/>
<rect x="914" y="437.0" width="1" height="51.0" fill="#ef5350"/>
<rect x="913" y="441.2" width="3" height="24.6" fill="#ef5350"/>
<rect x="919" y="454.9" width="1" height="40.8" fill="#ef5350"/>
<rect x="918" y="465.1" width="3" height="21.4" fill="#ef5350"/>
<rect x="924" y="484.2" width="1" height="88.3" fill="#ef5350"/>
<rect x="923" y="485.9" width="3" height="83.8" fill="#ef5350"/>
<rect x="929" y="496.9" width="1" height="94.9" fill="#26a69a"/>
<rect x="928" y="506.7" width="3" height="63.0" fill="#26a69a"/>
<rect x="934" y="498.0" width="1" height="34.2" fill="#ef5350"/>
<rect x="933" y="506.7" width="3" height="11.1" fill="#ef5350"/>
<rect x="939" y="493.1" width="1" height="26.3" fill="#26a69a"/>
<rect x="938" y="508.9" width="3" height="8.9" fill="#26a69a"/>
<rect x="944" y="499.7" width="1" height="25.1" fill="#ef5350"/>
<rect x="943" y="508.9" width="3" height="2.0" fill="#ef5350"/>
<rect x="949" y="506.7" width="1" height="21.9" fill="#ef5350"/>
<rect x="948" y="510.0" width="3" height="11.5" fill="#ef5350"/>
<rect x="954" y="517.1" width="1" height="28.6" fill="#ef5350"/>
<rect x="953" y="521.0" width="3" height="14.9" fill="#ef5350"/>
<rect x="959" y="524.0" width="1" height="26.7" fill="#ef5350"/>
<rect x="958" y="534.7" width="3" height="7.1" fill="#ef5350"/>
<rect x="964" y="516.1" width="1" height="29.0" fill="#26a69a"/>
<rect x="963" y="521.0" width="3" height="20.8" fill="#26a69a"/>
<rect x="969" y="506.7" width="1" height="15.3" fill="#26a69a"/>
<rect x="968" y="512.8" width="3" height="8.7" fill="#26a69a"/>
<rect x="974" y="503.0" width="1" height="24.3" fill="#ef5350"/>
<rect x="973" y="512.8" width="3" height="8.7" fill="#ef5350"/>
<rect x="979" y="510.0" width="1" height="22.6" fill="#26a69a"/>
<rect x="978" y="519.9" width="3" height="1.0" fill="#26a69a"/>
<rect x="984" y="517.0" width="1" height="21.7" fill="#ef5350"/>
<rect x="983" y="519.9" width="3" height="12.8" fill="#ef5350"/>
<rect x="989" y="524.1" width="1" height="20.7" fill="#ef5350"/>
<rect x="988" y="532.4" width="3" height="8.1" fill="#ef5350"/>
<rect x="994" y="533.4" width="1" height="13.3" fill="#26a69a"/>
<rect x="993" y="536.3" width="3" height="4.2" fill="#26a69a"/>
<rect x="999" y="524.9" width="1" height="16.1" fill="#26a69a"/>
<rect x="998" y="526.3" width="3" height="10.4" fill="#26a69a"/>
<rect x="1004" y="522.0" width="1" height="8.6" fill="#ef5350"/>
<rect x="1003" y="526.7" width="3" height="1.0" fill="#ef5350"/>
<rect x="1009" y="525.9" width="1" height="7.9" fill="#ef5350"/>
<rect x="1008" y="528.1" width="3" height="2.9" fill="#ef5350"/>
<rect x="1014" y="529.8" width="1" height="30.7" fill="#ef5350"/>
<rect x="1013" y="530.1" width="3" height="25.1" fill="#ef5350"/>
<rect x="1019" y="552.0" width="1" height="19.9" fill="#ef5350"/>
<rect x="1018" y="554.8" width="3" height="4.7" fill="#ef5350"/>
<rect x="1024" y="511.0" width="1" height="49.9" fill="#26a69a"/>
<rect x="1023" y="528.1" width="3" height="32.0" fill="#26a69a"/>
<rect x="1029" y="521.0" width="1" height="18.8" fill="#ef5350"/>
<rect x="1028" y="528.1" width="3" height="4.3" fill="#ef5350"/>
<rect x="1033" y="525.9" width="1" height="26.0" fill="#ef5350"/>
<rect x="1032" y="532.0" width="3" height="13.8" fill="#ef5350"/>
<rect x="1038" y="529.6" width="1" height="38.7" fill="#26a69a"/>
<rect x="1037" y="536.3" width="3" height="9.5" fill="#26a69a"/>
<rect x="1043" y="526.3" width="1" height="24.6" fill="#ef5350"/>
<rect x="1042" y="536.3" width="3" height="9.9" fill="#ef5350"/>
<rect x="1048" y="511.0" width="1" height="38.8" fill="#26a69a"/>
<rect x="1047" y="521.3" width="3" height="24.9" fill="#26a69a"/>
<rect x="1053" y="517.0" width="1" height="25.0" fill="#ef5350"/>
<rect x="1052" y="521.3" width="3" height="4.6" fill="#ef5350"/>
<rect x="1058" y="479.2" width="1" height="52.8" fill="#26a69a"/>
<rect x="1057" y="489.9" width="3" height="36.0" fill="#26a69a"/>
<rect x="1063" y="482.9" width="1" height="23.1" fill="#ef5350"/>
<rect x="1062" y="489.9" width="3" height="15.4" fill="#ef5350"/>
<rect x="1068" y="500.0" width="1" height="29.7" fill="#ef5350"/>
<rect x="1067" y="503.9" width="3" height="24.1" fill="#ef5350"/>
<rect x="1073" y="523.2" width="1" height="12.3" fill="#ef5350"/>
<rect x="1072" y="527.1" width="3" height="6.6" fill="#ef5350"/>
<rect x="1078" y="526.1" width="1" height="20.7" fill="#ef5350"/>
<rect x="1077" y="533.3" width="3" height="12.2" fill="#ef5350"/>
<rect x="1083" y="514.9" width="1" height="29.8" fill="#26a69a"/>
<rect x="1082" y="523.4" width="3" height="21.3" fill="#26a69a"/>
<rect x="1088" y="496.8" width="1" height="27.9" fill="#26a69a"/>
<rect x="1087" y="512.2" width="3" height="12.3" fill="#26a69a"/>
<rect x="1093" y="500.8" width="1" height="18.7" fill="#26a69a"/>
<rect x="1092" y="510.3" width="3" height="2.6" fill="#26a69a"/>
<rect x="1098" y="504.7" width="1" height="13.2" fill="#26a69a"/>
<rect x="1097" y="507.0" width="3" height="3.9" fill="#26a69a"/>
<rect x="1103" y="479.7" width="1" height="27.9" fill="#26a69a"/>
<rect x="1102" y="503.9" width="3" height="3.7" fill="#26a69a"/>
<rect x="1108" y="501.1" width="1" height="7.6" fill="#26a69a"/>
<rect x="1107" y="501.3" width="3" height="3.4" fill="#26a69a"/>
<rect x="1113" y="485.0" width="1" height="18.9" fill="#26a69a"/>
<rect x="1112" y="489.2" width="3" height="13.4" fill="#26a69a"/>
<rect x="1118" y="471.4" width="1" height="21.1" fill="#26a69a"/>
<rect x="1117" y="472.1" width="3" height="17.4" fill="#26a69a"/>
<rect x="1123" y="463.2" width="1" height="20.1" fill="#ef5350"/>
<rect x="1122" y="472.1" width="3" height="8.6" fill="#ef5350"/>
<rect x="1128" y="474.1" width="1" height="32.2" fill="#ef5350"/>
<rect x="1127" y="480.3" width="3" height="21.4" fill="#ef5350"/>
<rect x="1133" y="498.0" width="1" height="22.8" fill="#ef5350"/>
<rect x="1132" y="501.0" width="3" height="11.5" fill="#ef5350"/>
<rect x="1138" y="500.0" width="1" height="15.8" fill="#26a69a"/>
<rect x="1137" y="507.2" width="3" height="5.7" fill="#26a69a"/>
<rect x="1143" y="502.1" width="1" height="20.7" fill="#ef5350"/>
<rect x="1142" y="507.2" width="3" height="13.3" fill="#ef5350"/>
<rect x="1148" y="515.5" width="1" height="17.1" fill="#ef5350"/>
<rect x="1147" y="519.9" width="3" height="9.9" fill="#ef5350"/>
<rect x="1153" y="497.1" width="1" height="35.5" fill="#26a69a"/>
<rect x="1152" y="504.1" width="3" height="25.7" fill="#26a69a"/>
<rect x="1158" y="500.0" width="1" height="19.9" fill="#ef5350"/>
<rect x="1157" y="504.1" width="3" height="3.5" fill="#ef5350"/>
<rect x="1163" y="495.1" width="1" height="12.8" fill="#26a69a"/>
<rect x="1162" y="501.0" width="3" height="6.6" fill="#26a69a"/>
<rect x="1167" y="500.2" width="1" height="25.4" fill="#ef5350"/>
<rect x="1166" y="501.0" width="3" height="20.2" fill="#ef5350"/>
<rect x="1172" y="518.6" width="1" height="28.1" fill="#ef5350"/>
<rect x="1171" y="519.0" width="3" height="21.5" fill="#ef5350"/>
<rect x="1177" y="532.6" width="1" height="11.0" fill="#ef5350"/>
<rect x="1176" y="539.8" width="3" height="1.0" fill="#ef5350"/>
<rect x="1182" y="535.1" width="1" height="16.7" fill="#ef5350"/>
<rect x="1181" y="541.0" width="3" height="3.9" fill="#ef5350"/>
<rect x="1187" y="526.1" width="1" height="18.8" fill="#26a69a"/>
<rect x="1186" y="532.2" width="3" height="12.7" fill="#26a69a"/>
<path d="M10.6,167.0 C13.7,165.8 22.4,163.1 29.0,160.0 C35.6,156.9 43.3,151.5 50.0,148.6 C56.7,145.7 63.5,144.2 69.4,142.5 C75.3,140.8 80.1,139.8 85.2,138.6 C90.3,137.4 93.7,136.1 100.0,135.3 C106.3,134.5 115.7,133.1 122.8,133.9 C129.9,134.7 135.8,138.1 142.7,140.2 C149.6,142.3 157.0,144.7 164.1,146.3 C171.2,148.0 179.6,149.3 185.5,150.1 C191.4,150.9 193.4,150.6 199.7,151.0 C206.0,151.4 216.4,152.1 223.5,152.4 C230.6,152.7 236.1,152.5 242.0,152.7 C247.9,152.9 252.7,152.6 259.1,153.4 C265.5,154.2 274.6,156.8 280.5,157.7 C286.4,158.6 289.5,159.3 294.7,159.1 C299.9,158.9 305.4,157.7 311.9,156.3 C318.4,155.0 326.6,151.6 333.9,151.0 C341.2,150.4 346.4,152.1 355.8,152.6 C365.2,153.1 380.9,153.9 390.0,154.1 C399.1,154.3 404.9,154.1 410.6,153.9 C416.3,153.7 417.8,152.7 424.4,153.1 C431.0,153.5 442.5,154.6 450.1,156.5 C457.7,158.4 464.1,162.3 470.0,164.7 C475.9,167.0 480.5,168.7 485.8,170.6 C491.1,172.5 495.7,173.4 501.6,175.9 C507.5,178.4 515.4,182.0 521.3,185.4 C527.2,188.8 531.8,191.3 537.1,196.2 C542.4,201.1 548.0,209.2 552.9,215.0 C557.8,220.8 562.1,225.7 566.7,230.8 C571.3,235.9 576.5,242.1 580.5,245.6 C584.5,249.1 587.1,249.6 590.4,252.1 C593.7,254.6 594.7,256.7 600.3,260.4 C605.9,264.1 618.3,270.8 623.9,274.2 C629.5,277.6 629.8,278.4 633.8,280.5 C637.8,282.6 643.3,284.4 647.6,287.0 C651.9,289.6 654.1,291.6 659.5,295.9 C664.9,300.2 672.8,307.1 680.0,312.7 C687.2,318.3 695.8,325.1 702.9,329.5 C710.0,333.9 717.1,336.4 722.6,339.3 C728.1,342.2 731.0,344.8 735.8,347.2 C740.6,349.6 747.2,352.5 751.6,353.8 C756.0,355.1 759.0,354.8 762.1,355.1 C765.2,355.4 766.2,355.4 770.0,355.5 C773.8,355.6 779.0,356.1 784.7,355.5 C790.5,354.9 799.0,353.2 804.5,352.0 C810.0,350.8 812.1,349.3 817.6,348.4 C823.1,347.4 831.9,346.5 837.4,346.3 C842.9,346.1 845.9,346.9 850.5,347.1 C855.1,347.3 859.3,347.1 865.0,347.4 C870.7,347.6 878.7,347.5 884.7,348.6 C890.7,349.7 896.2,352.3 901.1,354.0 C906.0,355.7 910.2,357.0 914.3,358.9 C918.4,360.8 923.2,364.0 925.8,365.5 C928.4,367.0 926.9,366.1 930.0,367.8 C933.1,369.5 939.5,372.5 944.5,375.7 C949.5,378.9 954.2,383.2 960.2,387.1 C966.2,391.0 976.1,396.2 980.7,399.2 C985.3,402.2 983.5,401.9 987.9,405.2 C992.3,408.5 1002.0,415.0 1007.2,419.1 C1012.4,423.2 1013.3,425.1 1019.3,430.0 C1025.3,434.9 1037.0,443.9 1043.4,448.7 C1049.8,453.5 1053.8,455.5 1057.9,458.9 C1062.0,462.2 1064.3,465.2 1068.2,468.8 C1072.1,472.4 1076.9,477.2 1081.3,480.7 C1085.7,484.1 1090.1,486.9 1094.5,489.5 C1098.9,492.1 1103.2,494.1 1107.6,496.4 C1112.0,498.6 1117.4,501.1 1120.8,503.0 C1124.2,504.9 1125.3,506.7 1128.0,508.1 C1130.7,509.5 1133.9,510.3 1136.8,511.6 C1139.7,512.9 1142.6,514.9 1145.5,516.0 C1148.4,517.1 1151.4,517.6 1154.3,518.2 C1157.2,518.8 1160.2,519.2 1163.1,519.5 C1166.0,519.8 1169.0,519.6 1171.9,519.9 C1174.8,520.2 1178.0,520.8 1180.6,521.1 C1183.2,521.4 1186.4,521.8 1187.6,521.9" fill="none" stroke="#f23645" stroke-width="3" stroke-linejoin="round" stroke-linecap="round"/>
<path d="M10.6,141.6 C13.7,141.2 23.6,140.8 29.0,139.3 C34.4,137.8 39.5,134.9 43.0,132.8 C46.5,130.8 45.6,128.0 50.0,127.0 C54.4,126.0 65.3,126.7 69.4,127.0 C73.5,127.3 71.5,127.3 74.7,128.8 C77.9,130.4 85.2,135.1 88.7,136.3 C92.2,137.6 93.8,136.2 95.7,136.3 C97.6,136.4 97.9,135.6 100.0,136.8 C102.1,138.0 104.9,141.1 108.5,143.4 C112.1,145.7 117.6,147.8 121.4,150.6 C125.2,153.4 127.8,157.9 131.3,160.5 C134.9,163.1 138.9,164.9 142.7,166.2 C146.5,167.5 149.8,167.4 154.1,168.4 C158.4,169.4 164.1,171.7 168.4,172.4 C172.7,173.2 176.5,173.3 179.8,172.9 C183.1,172.5 185.8,170.8 188.3,169.8 C190.8,168.8 191.5,168.6 195.0,167.0 C198.5,165.4 203.5,162.9 209.2,160.5 C214.9,158.1 223.7,154.4 229.2,152.7 C234.7,151.0 238.2,150.0 242.0,150.1 C245.8,150.2 249.2,152.2 252.0,153.0 C254.8,153.8 255.6,153.0 259.1,154.8 C262.7,156.7 269.7,162.6 273.3,164.1 C276.9,165.6 276.9,165.4 280.5,164.1 C284.1,162.8 290.9,159.5 294.7,156.3 C298.5,153.1 299.6,149.4 303.2,144.9 C306.8,140.4 311.6,133.9 316.3,129.6 C321.1,125.3 327.3,119.0 331.7,119.0 C336.1,119.0 339.0,127.3 342.6,129.6 C346.2,131.9 349.9,130.5 353.6,132.9 C357.3,135.3 360.6,139.2 364.6,143.8 C368.6,148.4 373.5,156.5 377.7,160.3 C381.9,164.1 386.8,164.9 390.0,166.8 C393.2,168.7 393.4,170.6 396.8,171.7 C400.2,172.8 406.0,174.1 410.6,173.6 C415.2,173.1 420.1,168.9 424.4,168.9 C428.7,168.9 431.7,171.9 436.3,173.3 C440.9,174.8 447.5,174.7 452.1,177.6 C456.7,180.5 460.6,187.3 463.9,191.0 C467.2,194.7 468.8,197.1 471.8,199.9 C474.8,202.8 478.5,206.3 481.8,208.1 C485.1,209.9 487.8,208.4 491.7,210.7 C495.6,213.0 500.6,215.9 505.5,221.9 C510.4,227.9 516.0,238.9 521.3,246.6 C526.6,254.3 532.5,260.1 537.1,268.3 C541.7,276.5 545.0,288.7 548.9,295.9 C552.8,303.1 556.8,307.7 560.8,311.7 C564.8,315.7 567.8,317.5 572.6,320.0 C577.4,322.5 585.6,324.5 589.5,326.6 C593.4,328.7 593.1,331.5 596.0,332.4 C598.9,333.3 602.6,331.2 606.6,331.8 C610.6,332.4 615.5,335.1 619.7,336.1 C623.9,337.1 627.7,337.6 631.6,337.6 C635.5,337.6 639.7,336.1 643.4,336.1 C647.1,336.1 650.0,336.3 654.0,337.6 C658.0,338.9 663.6,341.8 667.1,343.7 C670.6,345.6 672.8,347.7 675.0,349.2 C677.2,350.7 675.9,351.7 680.5,352.9 C685.1,354.1 696.3,355.1 702.9,356.4 C709.5,357.6 714.5,359.4 720.0,360.4 C725.5,361.4 731.0,362.2 735.8,362.4 C740.6,362.6 744.5,362.5 748.9,361.7 C753.3,360.9 758.6,359.3 762.1,357.8 C765.6,356.3 767.8,354.2 770.0,352.9 C772.2,351.5 772.0,350.6 775.5,349.7 C779.0,348.8 786.5,348.2 791.3,347.6 C796.1,347.0 800.1,348.4 804.5,346.1 C808.9,343.8 813.2,336.5 817.6,333.6 C822.0,330.7 827.5,329.6 830.8,328.7 C834.1,327.8 834.8,327.5 837.4,328.3 C840.0,329.1 843.3,332.2 846.6,333.6 C849.9,335.0 854.0,335.8 857.1,336.8 C860.2,337.8 862.9,338.5 865.0,339.7 C867.1,340.9 866.6,342.9 869.9,344.1 C873.2,345.3 880.9,345.4 884.7,346.9 C888.5,348.4 889.9,349.1 892.9,353.2 C895.9,357.3 899.2,365.3 902.8,371.3 C906.4,377.3 911.0,382.7 914.3,389.3 C917.6,395.9 919.9,405.3 922.5,410.7 C925.1,416.1 925.7,414.9 930.0,421.5 C934.3,428.1 943.2,442.7 948.1,450.5 C953.0,458.3 955.8,463.8 959.3,468.1 C962.8,472.4 964.9,472.6 969.2,476.3 C973.5,480.0 981.8,487.3 985.0,490.3 C988.2,493.3 986.6,492.5 988.6,494.2 C990.6,495.9 993.8,498.7 997.1,500.6 C1000.4,502.5 1004.9,503.2 1008.5,505.6 C1012.1,508.0 1014.9,512.8 1018.5,514.9 C1022.1,517.0 1025.9,516.7 1029.9,518.2 C1033.9,519.7 1039.1,523.2 1042.7,524.1 C1046.3,525.0 1048.7,524.0 1051.3,523.4 C1053.9,522.8 1056.5,521.4 1058.4,520.6 C1060.3,519.8 1060.6,518.8 1062.9,518.8 C1065.2,518.8 1069.2,520.1 1072.1,520.8 C1074.9,521.5 1077.2,523.0 1080.0,523.2 C1082.8,523.4 1086.1,522.7 1089.2,522.1 C1092.3,521.5 1095.3,520.5 1098.4,519.5 C1101.5,518.5 1104.8,517.5 1107.6,516.2 C1110.4,514.9 1112.9,513.2 1115.5,511.6 C1118.1,510.0 1121.2,507.6 1123.4,506.6 C1125.6,505.6 1126.5,505.8 1128.7,505.7 C1130.9,505.6 1133.5,505.5 1136.8,506.3 C1140.0,507.1 1145.0,509.9 1148.2,510.3 C1151.4,510.7 1153.3,509.1 1156.1,508.9 C1158.9,508.7 1162.2,508.4 1164.8,508.9 C1167.4,509.4 1169.3,510.8 1171.9,512.0 C1174.5,513.2 1178.0,515.1 1180.6,516.4 C1183.2,517.6 1186.4,519.0 1187.6,519.5" fill="none" stroke="#2962ff" stroke-width="3" stroke-linejoin="round" stroke-linecap="round"/>
<line x1="923.1" y1="593.3" x2="1208.4" y2="534.6" stroke="#1c3d86" stroke-width="3.6" stroke-linecap="round"/>
<path d="M1038.4,573.2 L1086,582.5 L1066,582.5 Z" fill="#ffffff" stroke="#9c1c1c" stroke-width="1.2" stroke-linejoin="round"/>
<rect x="1034.5" y="582.5" width="86.5" height="32.5" rx="7" ry="7" fill="#ffffff" stroke="#9c1c1c" stroke-width="1.4"/>
<rect x="1065" y="581" width="22" height="3" fill="#ffffff"/>
<path d="M1065,582.5 L1038.4,573.2 L1087,582.5" fill="none" stroke="#9c1c1c" stroke-width="1.3" stroke-linejoin="round"/>
<text x="1045.6" y="602" font-size="12.5" fill="#9c1c1c" stroke="#9c1c1c" stroke-width="0.3" textLength="64.6" lengthAdjust="spacingAndGlyphs">Support line</text>
<g fill="none" stroke="#9c27b0" stroke-width="1.3">
<path d="M1196.59,607.62 A9.5,9.5 0 1 1 1190.59,601.42"/>
</g>
<path d="M1190,605.7 L1183.9,610.4 L1190.9,610.4 L1184.7,615.7" fill="none" stroke="#9c27b0" stroke-width="1.5" stroke-linejoin="round" stroke-linecap="round"/>
<circle cx="1194.4" cy="603.4" r="2.5" fill="#f23645"/>
</g>
<g clip-path="url(#cr)">
<path d="M524.3,768.5 L526.5,772.2 L529.5,768.5 L529.5,768.5 L524.3,768.5 Z" fill="url(#osg)"/>
<path d="M534.1,768.5 L536.5,770.8 L541.5,785.8 L546.5,790.2 L551.5,790.9 L556.5,774.4 L558.6,768.5 L558.6,768.5 L534.1,768.5 Z" fill="url(#osg)"/>
<path d="M896.6,768.5 L899.5,783.5 L904.5,789.3 L909.5,770.9 L914.5,781.2 L919.5,790.8 L924.5,812.8 L928.7,768.5 L928.7,768.5 L896.6,768.5 Z" fill="url(#osg)"/>
<path d="M956.2,768.5 L959.5,770.3 L960.0,768.5 L960.0,768.5 L956.2,768.5 Z" fill="url(#osg)"/>
<path d="M8.0,693.4 C9.8,694.1 14.1,696.1 18.9,697.4 C23.7,698.7 31.5,701.1 36.9,701.0 C42.3,700.9 46.0,698.6 51.4,697.0 C56.8,695.4 64.1,692.1 69.5,691.6 C74.9,691.1 80.1,693.0 84.0,694.1 C87.9,695.2 90.0,696.8 93.0,698.3 C96.0,699.8 97.8,699.5 102.0,702.8 C106.2,706.1 113.6,714.6 118.4,718.2 C123.2,721.8 127.1,722.6 131.0,724.5 C134.9,726.4 137.9,729.1 141.9,729.6 C145.9,730.1 150.6,727.7 155.0,727.8 C159.4,727.9 164.1,730.3 168.6,730.0 C173.1,729.7 178.0,727.7 182.1,726.0 C186.2,724.3 188.5,723.3 193.0,720.0 C197.5,716.7 203.6,710.9 209.3,706.4 C215.0,701.9 221.7,696.2 227.4,692.8 C233.1,689.4 238.6,686.7 243.7,686.2 C248.8,685.7 253.0,686.7 258.1,689.8 C263.2,692.9 269.6,701.4 274.4,704.6 C279.2,707.8 282.8,709.1 287.1,709.1 C291.4,709.1 296.0,706.6 300.0,704.6 C304.0,702.6 307.9,700.0 310.9,697.4 C313.9,694.8 314.5,692.7 318.1,689.2 C321.7,685.7 328.4,678.9 332.6,676.6 C336.8,674.4 339.5,675.3 343.4,675.7 C347.3,676.1 352.5,677.0 356.1,678.9 C359.7,680.8 361.5,682.8 365.1,687.4 C368.7,692.0 373.9,700.8 377.8,706.4 C381.7,712.0 384.8,716.5 388.7,720.9 C392.6,725.3 396.8,731.5 401.3,732.7 C405.8,733.9 410.4,729.8 415.8,728.1 C421.2,726.4 429.0,724.2 433.9,722.7 C438.8,721.2 441.9,720.2 445.0,719.4 C448.1,718.5 448.9,717.4 452.2,717.6 C455.5,717.9 459.5,718.9 464.9,720.9 C470.3,722.9 477.9,727.3 484.8,729.9 C491.7,732.5 502.1,734.6 506.5,736.3 C510.9,738.0 508.3,738.0 511.5,740.0 C514.7,742.0 520.8,746.2 525.6,748.4 C530.4,750.6 535.1,750.6 540.5,753.2 C545.9,755.8 553.7,761.3 558.1,763.8 C562.5,766.3 564.2,767.5 567.0,768.2 C569.8,768.9 570.1,769.3 574.9,768.0 C579.7,766.7 589.9,763.9 596.0,760.3 C602.1,756.7 607.3,750.4 611.7,746.6 C616.1,742.8 618.7,740.5 622.6,737.5 C626.5,734.5 630.7,731.0 635.2,728.5 C639.7,726.0 644.6,723.8 649.7,722.7 C654.8,721.6 660.9,721.1 666.0,721.8 C671.1,722.5 675.1,726.1 680.5,726.7 C685.9,727.3 692.9,724.9 698.6,725.4 C704.3,725.9 710.0,729.0 714.8,729.6 C719.6,730.2 722.3,729.9 727.5,729.0 C732.7,728.1 739.8,726.8 745.9,724.2 C752.0,721.7 759.2,717.0 764.0,713.7 C768.8,710.4 770.6,707.3 774.8,704.6 C779.0,701.9 784.2,699.8 789.3,697.4 C794.4,695.0 801.4,693.1 805.6,690.5 C809.8,687.9 810.7,684.6 814.6,682.0 C818.5,679.4 825.5,675.5 829.1,674.8 C832.7,674.0 833.9,675.9 836.3,677.5 C838.7,679.1 839.4,681.8 843.6,684.3 C847.8,686.8 856.6,690.3 861.7,692.8 C866.8,695.3 871.2,697.3 874.3,699.5 C877.3,701.7 877.2,702.6 880.0,706.1 C882.8,709.6 887.0,715.2 890.9,720.6 C894.8,726.0 899.3,733.9 903.5,738.7 C907.7,743.5 912.6,746.2 916.2,749.5 C919.8,752.8 921.3,755.8 925.2,758.2 C929.1,760.6 935.2,761.9 939.7,764.0 C944.2,766.1 948.5,769.4 952.4,770.9 C956.3,772.4 959.6,773.5 963.2,773.0 C966.8,772.5 969.9,770.0 974.1,768.0 C978.3,766.0 984.7,762.6 988.6,760.7 C992.5,758.8 994.0,757.5 997.6,756.4 C1001.2,755.3 1006.7,754.3 1010.3,754.0 C1013.9,753.7 1016.3,755.5 1019.3,754.6 C1022.3,753.8 1024.3,750.2 1028.3,748.9 C1032.3,747.6 1039.0,748.1 1043.1,746.9 C1047.2,745.7 1049.7,743.9 1053.0,741.6 C1056.3,739.3 1059.2,735.0 1062.8,732.9 C1066.3,730.8 1069.9,731.0 1074.3,728.8 C1078.7,726.6 1085.2,722.0 1089.1,719.8 C1092.9,717.6 1094.1,717.5 1097.4,715.7 C1100.7,713.9 1104.8,711.5 1108.9,708.8 C1113.0,706.0 1117.9,700.5 1122.0,699.2 C1126.1,697.9 1128.4,701.0 1133.6,700.9 C1138.8,700.8 1148.1,699.3 1153.3,698.9 C1158.5,698.5 1161.0,697.2 1164.8,698.4 C1168.6,699.5 1172.6,703.3 1176.3,705.8 C1180.0,708.3 1185.2,712.0 1187.0,713.2" fill="none" stroke="#fbd136" stroke-width="1.25" stroke-linejoin="round" stroke-linecap="round"/>
<polyline points="9.5,717.3 14.5,708.2 19.5,684.7 24.5,692.8 29.5,695.6 34.5,671.7 39.5,678.4 44.5,667.5 49.5,647.1 54.5,694.7 59.5,702.4 64.5,702.4 69.5,702.4 74.5,712.8 78.5,736.8 83.5,724.2 88.5,735.4 93.5,700.6 98.5,711.5 103.5,723.6 108.5,741.7 113.5,729.0 118.5,732.1 123.5,721.8 128.5,744.4 133.5,740.4 138.5,744.1 143.5,733.6 148.5,719.1 153.5,715.1 158.5,722.0 163.5,722.7 168.5,726.0 173.5,717.3 178.5,708.6 183.5,713.3 188.5,692.0 193.5,680.2 198.5,676.0 203.5,677.8 208.5,684.7 213.5,683.8 218.5,671.1 222.5,676.0 227.5,670.2 232.5,688.7 237.5,689.2 242.5,695.2 247.5,723.6 252.5,729.6 257.5,713.7 262.5,749.5 267.5,742.2 272.5,742.2 277.5,712.8 282.5,694.7 287.5,697.4 292.5,664.4 297.5,653.9 302.5,645.3 307.5,644.9 312.5,638.6 317.5,634.0 322.5,668.8 327.5,658.5 332.5,674.8 337.5,731.7 342.5,739.9 347.5,714.6 352.5,713.7 357.5,724.2 362.5,734.5 367.5,745.3 372.5,752.0 377.5,746.2 382.5,735.4 387.5,724.2 392.5,734.5 397.5,738.1 402.5,720.9 407.5,714.6 412.5,709.7 417.5,692.8 422.5,695.6 427.5,704.6 432.5,720.9 437.5,731.4 442.5,722.3 447.5,717.3 452.5,714.6 457.5,740.8 462.5,761.1 467.5,743.5 472.5,753.5 477.5,739.4 482.5,744.1 487.5,727.2 492.5,718.7 497.5,733.6 502.5,739.0 507.5,748.8 512.5,767.8 517.5,759.8 522.5,765.6 526.5,772.2 531.5,766.0 536.5,770.8 541.5,785.8 546.5,790.2 551.5,790.9 556.5,774.4 561.5,760.3 566.5,764.2 571.5,739.9 576.5,733.6 581.5,735.7 586.5,736.3 591.5,738.5 596.5,758.9 601.5,722.7 606.5,708.2 611.5,715.5 616.5,729.9 621.5,730.3 626.5,722.7 631.5,720.0 636.5,706.1 641.5,710.0 646.5,706.8 651.5,721.8 656.5,722.7 661.5,735.4 666.5,745.9 671.5,733.2 676.5,742.6 680.5,746.6 685.5,723.6 690.5,721.8 695.5,718.7 700.5,719.4 705.5,728.5 710.5,726.3 715.5,729.9 720.5,728.1 725.5,721.8 730.5,721.3 735.5,728.5 740.5,711.6 745.5,720.9 750.5,705.5 755.5,692.8 760.5,685.6 765.5,677.5 770.5,656.7 775.5,658.5 780.5,690.1 785.5,693.8 790.5,698.3 795.5,700.6 800.5,695.6 805.5,691.0 810.5,652.1 815.5,641.6 820.5,660.8 825.5,663.0 830.5,668.4 835.5,687.4 840.5,701.0 844.5,738.6 849.5,727.2 854.5,726.0 859.5,726.3 864.5,729.6 869.5,749.8 874.5,729.9 879.5,719.5 884.5,719.1 889.5,754.0 894.5,757.7 899.5,783.5 904.5,789.3 909.5,770.9 914.5,781.2 919.5,790.8 924.5,812.8 929.5,760.4 934.5,763.6 939.5,757.7 944.5,758.9 949.5,764.3 954.5,767.6 959.5,770.3 964.5,752.8 969.5,745.0 974.5,748.6 979.5,748.6 984.5,754.6 989.5,759.5 994.5,754.6 999.5,745.5 1004.5,745.5 1009.5,747.7 1014.5,763.6 1019.5,766.2 1024.5,729.6 1029.5,734.5 1033.5,741.6 1038.5,732.1 1043.5,739.5 1048.5,714.0 1053.5,717.3 1058.5,687.4 1063.5,700.5 1068.5,717.0 1073.5,722.2 1078.5,730.5 1083.5,712.4 1088.5,702.2 1093.5,699.5 1098.5,696.7 1103.5,694.3 1108.5,692.6 1113.5,680.8 1118.5,667.6 1123.5,677.8 1128.5,700.9 1133.5,710.7 1138.5,706.1 1143.5,718.1 1148.5,726.3 1153.5,700.5 1158.5,703.3 1163.5,697.6 1167.5,717.3 1172.5,734.1 1177.5,734.1 1182.5,736.2 1187.5,722.2" fill="none" stroke="#7e57c2" stroke-width="2.6" stroke-linejoin="round" stroke-linecap="round"/>
</g>
<text x="18.4" y="45.9" font-size="12" fill="#131722" stroke="#131722" stroke-width="0.3" textLength="177.3" lengthAdjust="spacingAndGlyphs">Bitcoin / TetherUS · 1D · Binance</text>
<text x="203.4" y="45.9" font-size="12" fill="#131722" stroke="#131722" stroke-width="0.3" textLength="7.5" lengthAdjust="spacingAndGlyphs">O</text>
<text x="211.5" y="45.9" font-size="12" fill="#26a69a" stroke="#26a69a" stroke-width="0.3" textLength="52.2" lengthAdjust="spacingAndGlyphs">66,010.93</text>
<text x="271.7" y="45.9" font-size="12" fill="#131722" stroke="#131722" stroke-width="0.3" textLength="7.5" lengthAdjust="spacingAndGlyphs">H</text>
<text x="279.6" y="45.9" font-size="12" fill="#26a69a" stroke="#26a69a" stroke-width="0.3" textLength="52.3" lengthAdjust="spacingAndGlyphs">68,169.65</text>
<text x="339.6" y="45.9" font-size="12" fill="#131722" stroke="#131722" stroke-width="0.3" textLength="5.6" lengthAdjust="spacingAndGlyphs">L</text>
<text x="345.8" y="45.9" font-size="12" fill="#26a69a" stroke="#26a69a" stroke-width="0.3" textLength="52.2" lengthAdjust="spacingAndGlyphs">65,800.59</text>
<text x="405.7" y="45.9" font-size="12" fill="#131722" stroke="#131722" stroke-width="0.3" textLength="6.6" lengthAdjust="spacingAndGlyphs">C</text>
<text x="412.8" y="45.9" font-size="12" fill="#26a69a" stroke="#26a69a" stroke-width="0.3" textLength="52.4" lengthAdjust="spacingAndGlyphs">67,390.35</text>
<text x="472.9" y="45.9" font-size="12" fill="#26a69a" stroke="#26a69a" stroke-width="0.3" textLength="101.3" lengthAdjust="spacingAndGlyphs">+1,379.42 (+2.09%)</text>
<text x="18.4" y="62.6" font-size="12" fill="#131722" stroke="#131722" stroke-width="0.3" textLength="81.5" lengthAdjust="spacingAndGlyphs">EMA (20, close)</text>
<text x="106.9" y="62.6" font-size="12" fill="#2962ff" stroke="#2962ff" stroke-width="0.3" textLength="53.5" lengthAdjust="spacingAndGlyphs">69,008.14</text>
<text x="18.4" y="79.6" font-size="12" fill="#131722" stroke="#131722" stroke-width="0.3" textLength="80.8" lengthAdjust="spacingAndGlyphs">SMA (50, close)</text>
<text x="106.9" y="79.6" font-size="12" fill="#f23645" stroke="#f23645" stroke-width="0.3" textLength="52.4" lengthAdjust="spacingAndGlyphs">68,747.23</text>
<text x="18.5" y="642.7" font-size="12" fill="#131722" stroke="#131722" stroke-width="0.3" textLength="74.5" lengthAdjust="spacingAndGlyphs">RSI (14, close)</text>
<text x="102.1" y="642.7" font-size="12" fill="#7e57c2" stroke="#7e57c2" stroke-width="0.3" textLength="28.7" lengthAdjust="spacingAndGlyphs">44.47</text>
<text x="138.6" y="642.7" font-size="12" fill="#fdd835" stroke="#fdd835" stroke-width="0.3" textLength="29.3" lengthAdjust="spacingAndGlyphs">47.49</text>
<text x="1283" y="594.8" font-size="12" fill="#131722" stroke="#131722" stroke-width="0.3" textLength="52.8" lengthAdjust="spacingAndGlyphs">60,000.00</text>
<text x="1283" y="465.8" font-size="12" fill="#131722" stroke="#131722" stroke-width="0.3" textLength="52.8" lengthAdjust="spacingAndGlyphs">76,000.00</text>
<text x="1283" y="432.8" font-size="12" fill="#131722" stroke="#131722" stroke-width="0.3" textLength="52.8" lengthAdjust="spacingAndGlyphs">80,000.00</text>
<text x="1283" y="368.8" font-size="12" fill="#131722" stroke="#131722" stroke-width="0.3" textLength="52.8" lengthAdjust="spacingAndGlyphs">88,000.00</text>
<text x="1283" y="335.8" font-size="12" fill="#131722" stroke="#131722" stroke-width="0.3" textLength="52.8" lengthAdjust="spacingAndGlyphs">92,000.00</text>
<text x="1283" y="303.8" font-size="12" fill="#131722" stroke="#131722" stroke-width="0.3" textLength="52.8" lengthAdjust="spacingAndGlyphs">96,000.00</text>
<text x="1283" y="271.8" font-size="12" fill="#131722" stroke="#131722" stroke-width="0.3" textLength="59" lengthAdjust="spacingAndGlyphs">100,000.00</text>
<text x="1283" y="238.8" font-size="12" fill="#131722" stroke="#131722" stroke-width="0.3" textLength="59" lengthAdjust="spacingAndGlyphs">104,000.00</text>
<text x="1283" y="206.8" font-size="12" fill="#131722" stroke="#131722" stroke-width="0.3" textLength="59" lengthAdjust="spacingAndGlyphs">108,000.00</text>
<text x="1283" y="174.8" font-size="12" fill="#131722" stroke="#131722" stroke-width="0.3" textLength="59" lengthAdjust="spacingAndGlyphs">112,000.00</text>
<text x="1283" y="141.8" font-size="12" fill="#131722" stroke="#131722" stroke-width="0.3" textLength="59" lengthAdjust="spacingAndGlyphs">116,000.00</text>
<text x="1283" y="109.8" font-size="12" fill="#131722" stroke="#131722" stroke-width="0.3" textLength="59" lengthAdjust="spacingAndGlyphs">120,000.00</text>
<text x="1283" y="77.8" font-size="12" fill="#131722" stroke="#131722" stroke-width="0.3" textLength="59" lengthAdjust="spacingAndGlyphs">124,000.00</text>
<rect x="1276" y="28.5" width="75" height="33" fill="#ffffff"/>
<rect x="1278.5" y="31.5" width="69" height="26" rx="5" ry="5" fill="#ffffff" stroke="#efefef" stroke-width="1.5"/>
<text x="1287" y="49" font-size="12" fill="#131722" stroke="#131722" stroke-width="0.3" textLength="28.5" lengthAdjust="spacingAndGlyphs">USDT</text>
<rect x="1275" y="61" width="73" height="5" fill="#0000ff"/>
<path d="M1275,61 h73 v3 a2,2 0 0 1 -2,2 h-71 z" fill="#0000ff"/>
<path d="M1275,277 H1339 a2,2 0 0 1 2,2 V292 a2,2 0 0 1 -2,2 H1275 Z" fill="#0000ff"/>
<text x="1283" y="289.8" font-size="12" fill="#ffffff" font-weight="bold" textLength="53" lengthAdjust="spacingAndGlyphs">97,924.00</text>
<path d="M1275,303.2 H1339 a2,2 0 0 1 2,2 V317.8 a2,2 0 0 1 -2,2 H1275 Z" fill="#0000ff"/>
<text x="1283" y="315.8" font-size="12" fill="#ffffff" font-weight="bold" textLength="53" lengthAdjust="spacingAndGlyphs">94,789.00</text>
<path d="M1275,390.4 H1339 a2,2 0 0 1 2,2 V404.8 a2,2 0 0 1 -2,2 H1275 Z" fill="#0000ff"/>
<text x="1283" y="402.90000000000003" font-size="12" fill="#ffffff" font-weight="bold" textLength="53" lengthAdjust="spacingAndGlyphs">84,000.00</text>
<path d="M1275,466.9 H1339 a2,2 0 0 1 2,2 V481.3 a2,2 0 0 1 -2,2 H1275 Z" fill="#0000ff"/>
<text x="1283" y="479.40000000000003" font-size="12" fill="#ffffff" font-weight="bold" textLength="53" lengthAdjust="spacingAndGlyphs">74,508.00</text>
<path d="M1275,490 H1339 a2,2 0 0 1 2,2 V504.8 a2,2 0 0 1 -2,2 H1275 Z" fill="#2962ff"/>
<text x="1283" y="502.7" font-size="12" fill="#ffffff" font-weight="bold" textLength="52.5" lengthAdjust="spacingAndGlyphs">69,008.14</text>
<path d="M1245.1,490 H1274 V506.8 H1245.1 a2,2 0 0 1 -2,-2 V492 a2,2 0 0 1 2,-2 Z" fill="#2962ff"/>
<text x="1248" y="502.7" font-size="12" fill="#ffffff" font-weight="bold" textLength="22" lengthAdjust="spacingAndGlyphs">EMA</text>
<path d="M1275,507.1 H1339 a2,2 0 0 1 2,2 V521.8 a2,2 0 0 1 -2,2 H1275 Z" fill="#f23645"/>
<text x="1283" y="519.75" font-size="12" fill="#ffffff" font-weight="bold" textLength="52.5" lengthAdjust="spacingAndGlyphs">68,747.23</text>
<path d="M1226.2,507.1 H1274 V523.8 H1226.2 a2,2 0 0 1 -2,-2 V509.1 a2,2 0 0 1 2,-2 Z" fill="#f23645"/>
<text x="1229" y="519.75" font-size="12" fill="#ffffff" font-weight="bold" textLength="41.5" lengthAdjust="spacingAndGlyphs">SMA:MA</text>
<path d="M1275,524 H1339 a2,2 0 0 1 2,2 V566.8 a2,2 0 0 1 -2,2 H1275 Z" fill="#26a69a"/>
<path d="M1219,524 H1274 V541 H1219 a2,2 0 0 1 -2,-2 V526 a2,2 0 0 1 2,-2 Z" fill="#26a69a"/>
<text x="1221.3" y="536.8" font-size="12" fill="#ffffff" font-weight="bold" textLength="48" lengthAdjust="spacingAndGlyphs">BTCUSDT</text>
<text x="1283" y="537" font-size="12" fill="#ffffff" font-weight="bold" textLength="52.5" lengthAdjust="spacingAndGlyphs">67,390.35</text>
<text x="1283" y="550.6" font-size="12" fill="#ffffff" font-weight="bold" textLength="43" lengthAdjust="spacingAndGlyphs">−41.43%</text>
<text x="1283" y="564.2" font-size="12" fill="#d4efeb" font-weight="bold" textLength="46" lengthAdjust="spacingAndGlyphs">07:25:08</text>
<text x="1283" y="646.5" font-size="12" fill="#131722" stroke="#131722" stroke-width="0.3" textLength="29.5" lengthAdjust="spacingAndGlyphs">70.00</text>
<text x="1283" y="677.5" font-size="12" fill="#131722" stroke="#131722" stroke-width="0.3" textLength="29.5" lengthAdjust="spacingAndGlyphs">60.00</text>
<text x="1283" y="740.5" font-size="12" fill="#131722" stroke="#131722" stroke-width="0.3" textLength="29.5" lengthAdjust="spacingAndGlyphs">40.00</text>
<text x="1283" y="771.5" font-size="12" fill="#131722" stroke="#131722" stroke-width="0.3" textLength="29.5" lengthAdjust="spacingAndGlyphs">30.00</text>
<text x="1283" y="803.5" font-size="12" fill="#131722" stroke="#131722" stroke-width="0.3" textLength="29.5" lengthAdjust="spacingAndGlyphs">20.00</text>
<path d="M1275,698 H1316 a2,2 0 0 1 2,2 V713 a2,2 0 0 1 -2,2 H1275 Z" fill="#fdd835"/>
<path d="M1197,698 H1274 V715 H1197 a2,2 0 0 1 -2,-2 V700 a2,2 0 0 1 2,-2 Z" fill="#fdd835"/>
<text x="1199.6" y="710.8" font-size="12" fill="#131722" stroke="#131722" stroke-width="0.3" textLength="71" lengthAdjust="spacingAndGlyphs">RSI-based MA</text>
<text x="1282.8" y="710.8" font-size="12" fill="#131722" stroke="#131722" stroke-width="0.3" textLength="29.4" lengthAdjust="spacingAndGlyphs">47.49</text>
<path d="M1275,715.3 H1316 a2,2 0 0 1 2,2 V729.7 a2,2 0 0 1 -2,2 H1275 Z" fill="#7e57c2"/>
<path d="M1251,715.3 H1274 V731.7 H1251 a2,2 0 0 1 -2,-2 V717.3 a2,2 0 0 1 2,-2 Z" fill="#7e57c2"/>
<text x="1254" y="727.8" font-size="12" fill="#ffffff" font-weight="bold" textLength="16" lengthAdjust="spacingAndGlyphs">RSI</text>
<text x="1282.8" y="727.8" font-size="12" fill="#ffffff" font-weight="bold" textLength="29.4" lengthAdjust="spacingAndGlyphs">44.47</text>
<text x="143.1" y="842" font-size="12" fill="#131722" stroke="#131722" stroke-width="0.3" text-anchor="middle" textLength="18" lengthAdjust="spacingAndGlyphs">Sep</text>
<text x="292.2" y="842" font-size="12" fill="#131722" stroke="#131722" stroke-width="0.3" text-anchor="middle" textLength="18" lengthAdjust="spacingAndGlyphs">Oct</text>
<text x="446.5" y="842" font-size="12" fill="#131722" stroke="#131722" stroke-width="0.3" text-anchor="middle" textLength="18" lengthAdjust="spacingAndGlyphs">Nov</text>
<text x="595.8" y="842" font-size="12" fill="#131722" stroke="#131722" stroke-width="0.3" text-anchor="middle" textLength="18" lengthAdjust="spacingAndGlyphs">Dec</text>
<text x="903.6" y="842" font-size="12" fill="#131722" stroke="#131722" stroke-width="0.3" text-anchor="middle" textLength="18" lengthAdjust="spacingAndGlyphs">Feb</text>
<text x="1042.5" y="842" font-size="12" fill="#131722" stroke="#131722" stroke-width="0.3" text-anchor="middle" textLength="18" lengthAdjust="spacingAndGlyphs">Mar</text>
<text x="1197.2" y="842" font-size="12" fill="#131722" stroke="#131722" stroke-width="0.3" text-anchor="middle" textLength="18" lengthAdjust="spacingAndGlyphs">Apr</text>
<text x="750" y="842" font-size="12" fill="#131722" text-anchor="middle" font-weight="bold" textLength="27" lengthAdjust="spacingAndGlyphs">2026</text>
<g transform="translate(11.9,870.6) scale(0.845)" fill="#131722"><path d="M14 22H7V11H0V4h14v18zM28 22h-8l7.5-18h8L28 22z"/><circle cx="20" cy="8" r="4"/></g>
<text x="48.8" y="888.8" font-size="21.3" fill="#131722" font-weight="bold" textLength="121" lengthAdjust="spacingAndGlyphs">TradingView</text>
</svg></body></html>
